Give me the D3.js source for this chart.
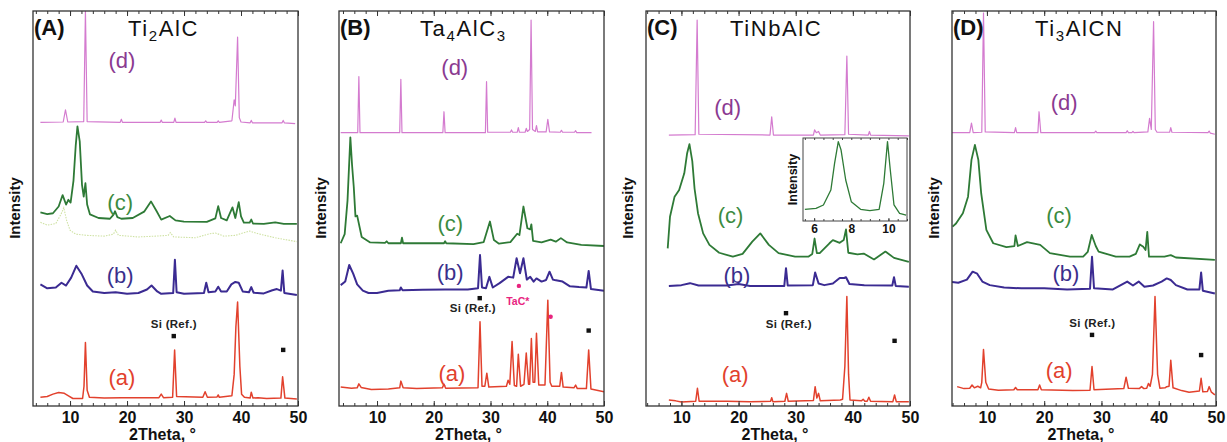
<!DOCTYPE html>
<html><head><meta charset="utf-8">
<script src="https://cdn.jsdelivr.net/npm/d3@7"></script>
<style>body{margin:0;background:#fff} svg{display:block} text{font-family:"Liberation Sans",Arial,Helvetica,sans-serif}</style>
</head><body><svg id="c" width="1227" height="442"></svg>
<script>
// ---------------- DATA ----------------
const panelLetters = ["(A)","(B)","(C)","(D)"];
const compounds = [
  [["Ti",0],["2",1],["AlC",0]],
  [["Ta",0],["4",1],["AlC",0],["3",1]],
  [["TiNbAlC",0]],
  [["Ti",0],["3",1],["AlCN",0]]
];
const traceNames = ["(a)","(b)","(c)","(d)"];
const xTickValues = [10,20,30,40,50];
const insetTickValues = [6,8,10];
const refLabel = "Si (Ref.)";
const impurityLabel = "TaC*";
const xTitle = "2Theta, \u00b0";
const yTitle = "Intensity";

// Panel A : Ti2AlC  ([2theta, relative intensity incl. offset])
const A_a = [[4.8,2.2],[6,2.4],[7,3.0],[8,3.4],[9,3.2],[9.8,2.5],[10.5,1.9],[12.2,1.9],[12.45,5],[12.7,16.1],[13.0,4],[13.4,2.2],[16,2.0],[19,2.1],[25.6,2.1],[26,3.0],[26.4,2.1],[28.0,2.2],[28.35,14.2],[28.7,2.4],[33.3,2.2],[33.7,3.6],[34.1,2.2],[35.8,2.3],[36,2.8],[36.2,2.2],[38.4,2.6],[38.8,8],[39.1,20],[39.4,26.3],[39.8,10],[40.1,3],[40.6,2.2],[41.6,2.0],[41.8,3.5],[42.1,2.0],[43,2.1],[44.5,1.9],[47.0,2.0],[47.3,7.4],[47.7,2.0],[49.8,1.8]];
const A_b = [[4.8,30.8],[6,29.8],[7.5,30],[8.5,31.2],[9.3,30.5],[10.2,32.5],[11.1,35.5],[12,33.5],[13,30.5],[14,29],[16,28.6],[18,28.8],[20,28.4],[22,28.6],[23.5,29.5],[24.3,30.5],[25.3,29],[26,28.4],[28.1,28.6],[28.4,37],[28.7,28.8],[30,28.4],[33.5,28.6],[33.9,31.2],[34.3,28.8],[35.5,29],[36,30.2],[36.5,29],[37.5,29],[38.3,30.8],[39,31.4],[39.6,31.2],[40.3,29],[41.4,28.8],[41.8,30.1],[42.2,28.7],[44,28.5],[45.5,29.3],[46.3,29.6],[47,29.2],[47.3,34.3],[47.6,28.6],[49.8,28.1]];
const A_c0 = [[4.8,46.5],[6,45.8],[7.5,46.2],[8.4,48.5],[8.9,50.2],[9.4,47],[10,44.5],[11,43.5],[13,43.2],[16,43],[17.6,43.5],[18,44.5],[18.5,43.2],[22,42.8],[25,43],[27.2,43.2],[27.6,43.9],[28.2,42.8],[32,42.6],[34.5,43.6],[35.5,43.8],[37,43],[39,43.2],[41.5,44.3],[43,43.6],[46,42.6],[49.8,41.6]];
const A_c = [[4.8,49],[6,48.6],[7,48.8],[8,50.5],[8.7,53.4],[9.3,51],[9.7,52.2],[10.1,51.5],[10.6,57],[11.0,66],[11.3,70.8],[11.7,67],[12.1,56],[12.4,53],[12.7,56.4],[13.0,51],[13.5,48.5],[15,47.6],[17,47.4],[17.6,48.4],[17.9,49.3],[18.3,47.8],[19,47.4],[21,47.6],[23,49.2],[24.2,51.8],[25.2,49.3],[26,47.2],[27.5,48.1],[28.5,47],[30,46.7],[34,46.6],[35.5,47.5],[36,50.6],[36.5,47.6],[37.5,47],[38.5,50.3],[39,47.6],[39.6,51.6],[40.0,48],[40.5,46.4],[41.5,46.4],[41.8,47.2],[42.1,46.2],[44,46.1],[46,46.5],[47.5,46.1],[49.8,46.1]];
const A_d = [[4.8,71.8],[8.8,71.9],[9.2,75],[9.6,71.9],[12.4,72],[12.7,100],[13.0,72],[18.8,71.8],[19,72.6],[19.2,71.8],[25.8,71.8],[26,72.4],[26.2,71.8],[28.2,71.8],[28.4,72.9],[28.6,71.8],[33.6,71.8],[33.8,72.2],[34,71.8],[35.8,71.8],[36,72.2],[36.2,71.8],[38.4,72.2],[38.8,77.5],[39.0,76],[39.4,93.4],[39.7,73],[40,71.9],[41.6,71.7],[41.8,72.3],[42,71.7],[47.2,71.7],[47.4,72.3],[47.6,71.7],[49.5,71.5]];

// Panel B : Ta4AlC3
const B_a = [[3.6,4.8],[5.5,4.5],[6.5,4.6],[6.8,5.6],[7.2,4.7],[9,4.2],[12,4.3],[14,4.6],[14.2,6.3],[14.6,4.6],[17,4.4],[21.5,4.6],[21.8,5.5],[22.1,4.5],[27.8,4.6],[28.15,21.3],[28.5,5],[29.0,5],[29.35,8.3],[29.7,4.8],[32.8,5],[33.1,6.5],[33.4,5.5],[33.8,16.3],[34.2,5.2],[34.6,5],[34.9,13.1],[35.3,5],[35.9,5.5],[36.3,13.4],[36.7,5.5],[36.9,5.5],[37.2,17.1],[37.5,6],[37.8,6],[38.1,18.4],[38.5,5.3],[39.6,5.3],[40.1,26.8],[40.5,6],[40.8,5],[42.2,5],[42.5,8.5],[42.8,4.8],[44.7,4.6],[45.0,5.3],[45.3,4.4],[46.9,4.4],[47.3,14.2],[47.7,4.3],[50,3.6]];
const B_b = [[3.6,30.6],[4.4,31.5],[5.1,35.7],[5.8,33.5],[6.5,30.8],[7.5,29.2],[8.5,28.6],[10,28.6],[12,29.2],[14,29.3],[14.2,30.0],[14.5,29.3],[18,29.4],[22,29.5],[26,29.5],[27.8,29.8],[28.15,38.2],[28.5,30],[29.2,29.8],[29.8,32.7],[30.4,30],[31.6,31.1],[33.1,32.7],[34.0,32.5],[34.6,37.4],[35.2,33.6],[35.8,37.4],[36.4,32],[37,32.7],[37.6,31.5],[38.1,32.3],[39.0,31.5],[39.8,31.9],[40.4,34],[41.0,32],[41.3,31.9],[42.7,31.5],[44,30.3],[45.6,30.1],[46.9,30],[47.3,34.2],[47.7,29.6],[50,29.2]];
const B_c = [[3.6,41.2],[4.3,43.5],[4.8,52],[5.3,68],[5.6,61],[5.9,55.5],[6.2,48],[6.5,48.2],[7.3,42.8],[8.8,41.4],[11.4,41.3],[11.7,41.7],[12,41.2],[14.2,41.2],[14.4,42.6],[14.6,41.2],[21.8,41.2],[22.0,41.7],[22.2,41.2],[27,41],[28.8,41.5],[29.9,46.7],[30.6,42],[31.5,41.1],[33.5,41.5],[34.7,43.6],[35.1,43.3],[35.8,50.5],[36.5,45],[37.0,44.7],[37.2,46],[37.5,41.8],[39,41.4],[40.6,42.1],[41.5,41.6],[42.4,42.5],[43.5,41.4],[46,40.8],[50,40.5]];
const B_d = [[3.6,69.2],[6.6,69.2],[6.8,83.4],[7.0,69.2],[14.0,69.2],[14.2,82.7],[14.4,69.2],[21.6,69.2],[21.8,74.5],[22.0,69.2],[29.1,69.2],[29.3,82.1],[29.5,69.3],[33.5,69.3],[33.7,69.9],[33.9,69.3],[34.7,69.3],[34.9,70.5],[35.1,69.3],[36.1,69.3],[36.3,70.3],[36.5,69.5],[36.9,70],[37.15,97.7],[37.4,70],[37.9,69.5],[38.1,71],[38.3,69.4],[39.8,69.4],[40.1,72.6],[40.4,69.4],[42.3,69.3],[42.5,69.8],[42.7,69.3],[44.8,69.3],[45,69.7],[45.2,69.2],[47.8,69.2]];

// Panel C : TiNbAlC
const C_a = [[7.8,1.5],[9,1.3],[10,1.0],[12.5,1.2],[12.8,4.5],[13.1,1.2],[18,1.2],[22,1.1],[25.6,1.2],[25.8,2.1],[26,1.1],[28.1,1.2],[28.4,3.2],[28.7,1.2],[33.1,1.4],[33.4,4.9],[33.7,2],[34.0,3.2],[34.3,1.3],[37.8,1.5],[38.2,1.7],[38.6,10],[38.95,27.7],[39.25,8],[39.5,1.5],[41.5,1.3],[41.8,1.7],[42.1,1.2],[42.5,1.2],[42.8,2.2],[43.1,1.2],[47,1.1],[47.3,2.8],[47.6,1.1],[49.8,1.1]];
const C_b = [[7.8,30.4],[10,30.6],[11.5,31.1],[13,30.5],[18,30.5],[20,30.9],[22,30.4],[28.0,30.4],[28.3,34.9],[28.6,30.5],[33.0,30.6],[33.4,33.8],[34.0,31],[35,30.6],[36.5,31],[37.7,32.4],[38.5,32.4],[38.8,32.6],[39.4,30.9],[42,30.6],[46.9,30.5],[47.2,32.6],[47.5,30.4],[49.8,30.2]];
const C_c = [[7.6,39.9],[8.0,47.9],[8.8,53],[9.6,54.7],[10.5,58.9],[11.0,64],[11.4,66.3],[11.9,62],[12.3,55],[12.9,48.8],[13.8,43.7],[14.9,40.8],[16.6,38.8],[19,37.8],[20.7,38.5],[22.4,41.6],[23.8,43.7],[25.3,40.8],[27,38.7],[29.9,37.8],[32.2,37.8],[32.9,38.5],[33.3,42.4],[33.7,38.7],[34.2,38.7],[35.9,41.2],[36.5,42],[37.7,41.3],[38.4,42],[38.8,44.7],[39.2,38.8],[40.8,38.4],[41.9,38.6],[43.7,37.1],[45.7,39.1],[47.2,37.5],[49.8,36.5]];
const C_d = [[7.8,68.6],[12.4,68.7],[12.75,97.7],[13.05,68.8],[25.5,68.6],[25.8,73.2],[26.1,68.6],[33.1,68.6],[33.3,69.9],[33.6,69.2],[34.0,69.5],[34.3,68.6],[38.6,68.7],[38.95,88.6],[39.25,68.8],[42.7,68.6],[42.9,69.5],[43.1,68.6],[49.8,68.4]];
const C_inset = [[5.5,14],[6.1,15.3],[6.5,19.3],[6.9,37.3],[7.1,69.5],[7.3,95.6],[7.45,85.5],[7.7,49.4],[8.0,23.3],[8.5,14.1],[9.0,12.4],[9.5,14.1],[9.75,45.4],[9.95,95.6],[10.1,61.4],[10.3,19.3],[10.6,9.3],[10.95,7.2]];

// Panel D : Ti3AlCN
const D_a = [[4.8,4.9],[6,4.4],[7.0,4.5],[7.4,5.3],[7.8,4.6],[8.4,5.0],[8.9,4.6],[9.1,6],[9.4,14.3],[9.8,6],[10.3,4.3],[12,4.0],[14.7,4.1],[15.0,4.7],[15.3,4.1],[18.9,4.1],[19.2,5.3],[19.5,4.1],[25,3.9],[28.0,4.0],[28.35,10.0],[28.7,4.1],[33.9,4.4],[34.3,7.3],[34.7,4.5],[36.6,4.4],[37.0,4.9],[37.4,4.4],[37.9,4.5],[38.2,5.7],[38.5,5],[38.9,8],[39.35,27.7],[39.8,8],[40.2,4.5],[41.1,4.6],[41.4,4.9],[41.8,5],[42.1,11.6],[42.5,4.6],[44,3.9],[45.3,3.5],[47.1,3.8],[47.4,7.0],[47.7,3.6],[48.5,3.7],[48.8,4.9],[49.2,3.5],[49.8,2.8]];
const D_b = [[3.9,31.4],[5,31.2],[6.5,32],[7.5,34],[8.3,33.5],[9.2,31.5],[10.5,30.6],[13,30],[16,29.8],[20,29.8],[24,29.5],[28.0,29.7],[28.35,37.8],[28.7,29.8],[32,29.5],[34.5,31.5],[35.5,30.5],[36.5,31.5],[37.5,30.2],[39,30.5],[40.5,31.5],[41.4,32.3],[42.1,31.9],[43,30.6],[45,29.5],[47.1,29.5],[47.4,33.8],[47.7,29.2],[49.8,28.5]];
const D_c = [[4.0,45.4],[4.6,46.2],[5.8,48.8],[6.7,53],[7.3,62.3],[7.9,66.1],[8.5,62.3],[9.0,53.8],[9.9,44.6],[11.1,41.2],[13.4,40.2],[14.8,40.5],[15.0,43.2],[15.4,40.5],[17,41.5],[19.3,40.8],[21,38.7],[24.5,37.8],[26.8,37.8],[27.6,39],[28.3,43.3],[29.0,40.5],[29.5,39.1],[32.5,37.8],[34.9,37.8],[36.0,38.5],[36.7,40.9],[37.3,40.3],[37.7,39.5],[38.0,44.1],[38.3,37.8],[41,37.8],[42.1,38.2],[43,37.6],[49.8,37]];
const D_d = [[3.9,69.2],[7.0,69.2],[7.3,71.6],[7.6,69.2],[9.1,69.3],[9.4,99.5],[9.7,69.4],[14.8,69.2],[15.0,70.5],[15.2,69.2],[18.9,69.2],[19.1,74.5],[19.4,69.2],[28.8,69.2],[29,69.6],[29.2,69.2],[34.3,69.2],[34.5,69.7],[34.7,69.2],[35.3,69.2],[35.5,69.5],[35.7,69.2],[38.1,69.4],[38.4,72.8],[38.7,70],[39.1,97.3],[39.4,70],[39.7,69.3],[41.9,69.3],[42.1,70.5],[42.3,69.3],[48.6,69.2],[48.8,69.6],[49.0,69.1],[49.8,68.8]];

const series = [[A_a,A_b,A_c,A_d],[B_a,B_b,B_c,B_d],[C_a,C_b,C_c,C_d],[D_a,D_b,D_c,D_d]];

// ---------------- LAYOUT / STYLE ----------------
const frameL = [33,339,646,952], frameR = [298,604,910,1216], frameT = 11, frameB = 406;
const xDomains = [[3.5,50],[3.3,50],[3.8,50],[3.9,50]];
const titleOffset = [95,81,84,83];
const traceStyle = [
  {stroke:"#e2412d", width:1.5, label:"#e2412d"},
  {stroke:"#3b2b92", width:2.0, label:"#3a2f8c"},
  {stroke:"#2e7a36", width:1.8, label:"#3b8b3f"},
  {stroke:"#d47bcf", width:1.2, label:"#8b3a91"}
];
// label anchors in data coordinates [2theta, intensity]
const labelPos = [
  [[19.1,5.3],[18.8,31.1],[18.8,49.6],[19.1,85.6]],
  [[23.2,6.3],[22.9,31.9],[22.9,44.3],[23.7,83.8]],
  [[19.4,6.1],[19.7,31.1],[18.6,46.3],[18.1,73.7]],
  [[22.6,7.1],[23.8,31.6],[22.6,46.3],[23.5,74.9]]
];
const siSquares = [[[28.2,17.7],[47.4,14.2]],[[28.1,27.3],[47.3,19.1]],[[28.3,23.5],[47.3,16.5]],[[28.35,18],[47.4,12.9]]];
const siText = [[28.2,19.7],[26.9,23.8],[28.8,19.7],[28.4,20]];
const tacDots = [[35.0,30.4],[40.6,22.6]];
const tacText = [34.8,25.6];

const svg = d3.select("#c");
const font = '"Liberation Sans",Arial,Helvetica,sans-serif';

panelLetters.forEach((letter,p)=>{
  const x = d3.scaleLinear().domain(xDomains[p]).range([frameL[p],frameR[p]]);
  const y = d3.scaleLinear().domain([0,100]).range([frameB,frameT]);
  const g = svg.append("g");
  const clipId = "clip"+p;
  svg.append("defs").append("clipPath").attr("id",clipId).append("rect")
    .attr("x",frameL[p]).attr("y",frameT).attr("width",frameR[p]-frameL[p]).attr("height",frameB-frameT);
  const line = d3.line().x(d=>x(d[0])).y(d=>y(d[1]));
  const lg = g.append("g").attr("clip-path",`url(#${clipId})`);
  if(p===0){
    lg.append("path").datum(A_c0).attr("d",line).attr("fill","none")
      .attr("stroke","#cfe2a4").attr("stroke-width",1.1).attr("stroke-dasharray","1.5,1.2");
  }
  [3,2,1,0].forEach(t=>{
    lg.append("path").datum(series[p][t]).attr("d",line).attr("fill","none")
      .attr("stroke",traceStyle[t].stroke).attr("stroke-width",traceStyle[t].width)
      .attr("stroke-linejoin","round");
  });
  // trace labels
  traceNames.forEach((nm,t)=>{
    g.append("text").attr("x",x(labelPos[p][t][0])).attr("y",y(labelPos[p][t][1]))
      .attr("text-anchor","middle").attr("font-size",22).attr("fill",traceStyle[t].label).text(nm);
  });
  // Si reference markers
  siSquares[p].forEach(s=>{
    g.append("rect").attr("x",x(s[0])-2.2).attr("y",y(s[1])-2.2).attr("width",4.4).attr("height",4.4).attr("fill","#111");
  });
  g.append("text").attr("x",x(siText[p][0])).attr("y",y(siText[p][1])).attr("text-anchor","middle")
    .attr("font-size",11.5).attr("font-weight","bold").attr("letter-spacing",0.3).attr("fill","#222").text(refLabel);
  if(p===1){
    tacDots.forEach(s=>{
      g.append("circle").attr("cx",x(s[0])).attr("cy",y(s[1])).attr("r",2.2).attr("fill","#e8247f");
    });
    g.append("text").attr("x",x(tacText[0])).attr("y",y(tacText[1])).attr("text-anchor","middle")
      .attr("font-size",10.5).attr("font-weight","bold").attr("fill","#e8247f").text(impurityLabel);
  }
  // ticks
  const minor = d3.range(4,51,2).filter(v=>v>=xDomains[p][0]);
  const bot = g.append("g").attr("transform",`translate(0,${frameB})`);
  bot.append("g").call(d3.axisBottom(x).tickValues(minor).tickSize(-3).tickFormat(""));
  bot.append("g").call(d3.axisBottom(x).tickValues(xTickValues).tickSize(-5).tickPadding(6))
    .call(a=>a.selectAll("text").attr("font-size",16).attr("font-weight","bold").attr("fill","#111").style("font-family",font));
  const top = g.append("g").attr("transform",`translate(0,${frameT})`);
  top.append("g").call(d3.axisTop(x).tickValues(minor).tickSize(-3).tickFormat(""));
  top.append("g").call(d3.axisTop(x).tickValues(xTickValues).tickSize(-5).tickFormat(""));
  g.selectAll(".domain").remove();
  g.selectAll(".tick line").attr("stroke","#333");
  // frame
  g.append("rect").attr("x",frameL[p]).attr("y",frameT).attr("width",frameR[p]-frameL[p]).attr("height",frameB-frameT)
    .attr("fill","none").attr("stroke","#333").attr("stroke-width",1.3);
  // axis titles
  g.append("text").attr("x",(frameL[p]+frameR[p])/2 - 3).attr("y",440).attr("text-anchor","middle")
    .attr("font-size",16).attr("font-weight","bold").attr("fill","#111").text(xTitle);
  g.append("text").attr("transform",`translate(${frameL[p]-13},208) rotate(-90)`).attr("text-anchor","middle")
    .attr("font-size",15).attr("font-weight","bold").attr("fill","#111").text(yTitle);
  // panel letter & compound
  g.append("text").attr("x",frameL[p]+1).attr("y",35).attr("font-size",22).attr("font-weight","bold").attr("fill","#111").text(letter);
  const tt = g.append("text").attr("x",frameL[p]+titleOffset[p]).attr("y",36).attr("font-size",22)
    .attr("letter-spacing",1.6).attr("fill","#111");
  let shifted = false;
  compounds[p].forEach(seg=>{
    const ts = tt.append("tspan").text(seg[0]);
    if(seg[1] && !shifted){ ts.attr("font-size",15).attr("dy",5); shifted = true; }
    else if(!seg[1] && shifted){ ts.attr("dy",-5); shifted = false; }
    else if(seg[1]) ts.attr("font-size",15);
  });

  // inset for panel C
  if(p===2){
    const iL=803, iR=907, iT=138, iB=221;
    const ix = d3.scaleLinear().domain([5.4,11]).range([iL,iR]);
    const iy = d3.scaleLinear().domain([0,100]).range([iB,iT]);
    const ig = svg.append("g");
    ig.append("rect").attr("x",iL).attr("y",iT).attr("width",iR-iL).attr("height",iB-iT).attr("fill","#fff");
    ig.append("path").datum(C_inset).attr("d",d3.line().x(d=>ix(d[0])).y(d=>iy(d[1])))
      .attr("fill","none").attr("stroke","#2e7a36").attr("stroke-width",1.3).attr("stroke-linejoin","round");
    const iminor = d3.range(5.5,11.01,0.5);
    const ib = ig.append("g").attr("transform",`translate(0,${iB})`);
    ib.append("g").call(d3.axisBottom(ix).tickValues(iminor).tickSize(-2).tickFormat(""));
    ib.append("g").call(d3.axisBottom(ix).tickValues(insetTickValues).tickSize(-3).tickPadding(3).tickFormat(d3.format("d")))
      .call(a=>a.selectAll("text").attr("font-size",12).attr("font-weight","bold").attr("fill","#111").style("font-family",font));
    const itp = ig.append("g").attr("transform",`translate(0,${iT})`);
    itp.append("g").call(d3.axisTop(ix).tickValues(iminor).tickSize(-2).tickFormat(""));
    ig.selectAll(".domain").remove();
    ig.selectAll(".tick line").attr("stroke","#444");
    ig.append("rect").attr("x",iL).attr("y",iT).attr("width",iR-iL).attr("height",iB-iT)
      .attr("fill","none").attr("stroke","#444").attr("stroke-width",1);
    ig.append("text").attr("transform",`translate(${iL-6},${(iT+iB)/2}) rotate(-90)`).attr("text-anchor","middle")
      .attr("font-size",12.5).attr("font-weight","bold").attr("fill","#111").text(yTitle);
  }
});
</script></body></html>
